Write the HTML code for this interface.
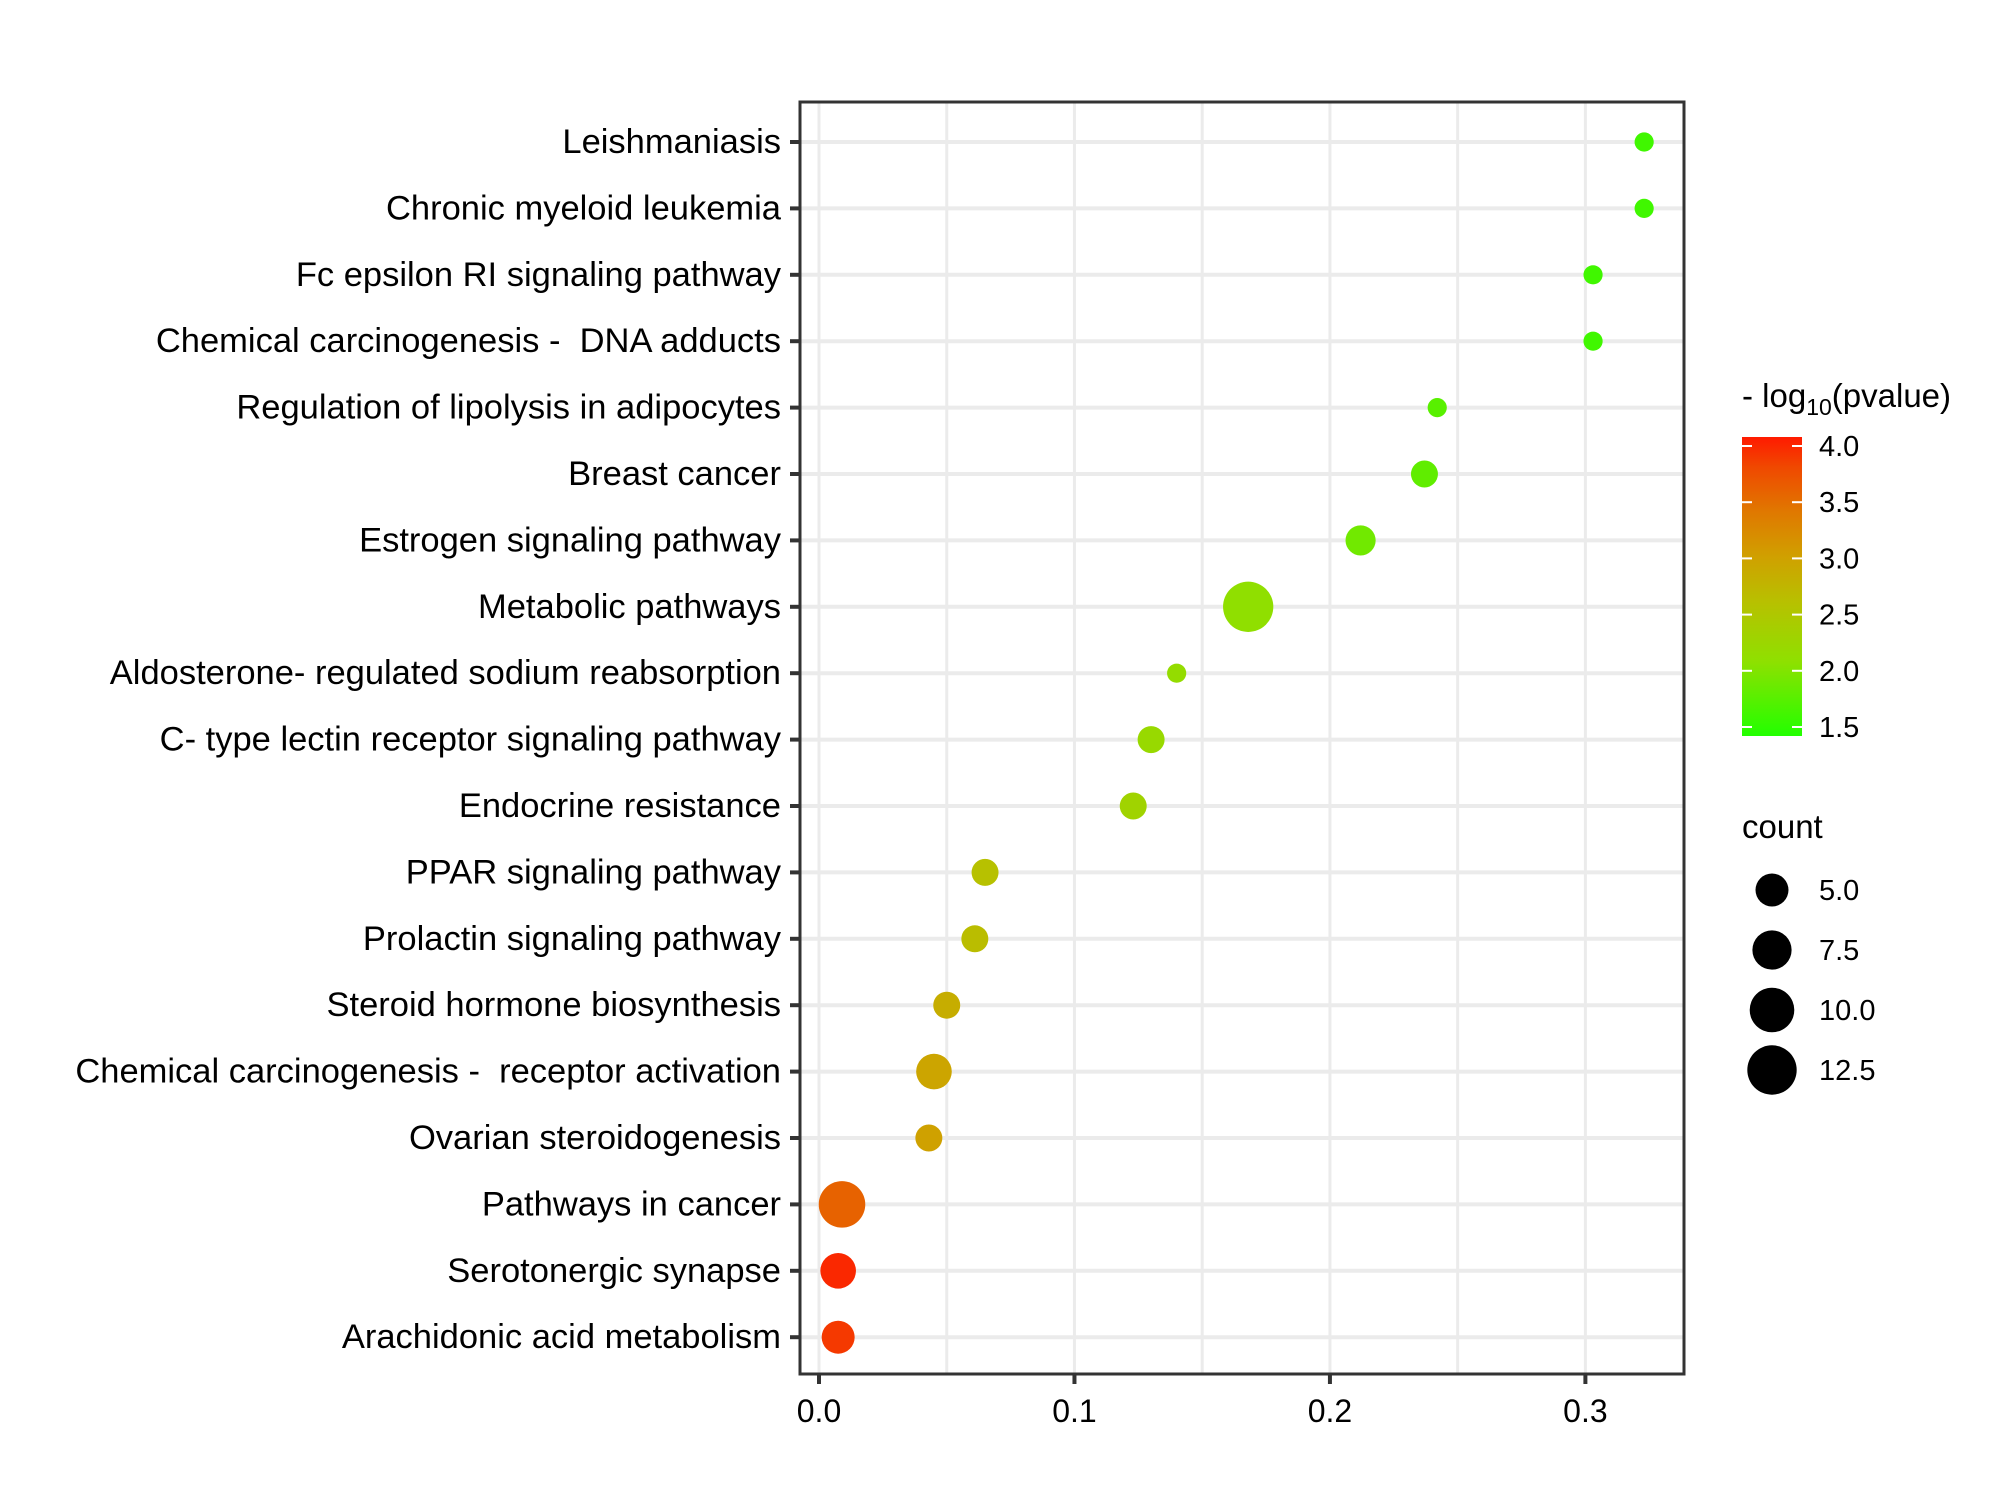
<!DOCTYPE html>
<html><head><meta charset="utf-8"><style>
html,body{margin:0;padding:0;background:#fff;}
svg{display:block;font-family:"Liberation Sans",Arial,sans-serif;}
text{white-space:pre;}
</style></head><body>
<svg id="chart" width="2000" height="1500" viewBox="0 0 2000 1500" xmlns="http://www.w3.org/2000/svg" xml:space="preserve">
<defs>
<linearGradient id="cbar" x1="0" y1="1" x2="0" y2="0">
<stop offset="0" stop-color="#22ff00"/>
<stop offset="0.25" stop-color="#8fe000"/>
<stop offset="0.45" stop-color="#b8c000"/>
<stop offset="0.6" stop-color="#d0a000"/>
<stop offset="0.75" stop-color="#e07800"/>
<stop offset="0.9" stop-color="#f04800"/>
<stop offset="1" stop-color="#ff1a00"/>
</linearGradient>
</defs>
<g id="grid"></g>
<g id="points"></g>
<g id="axes"></g>
<g id="legend"></g>
</svg>
<script>
const categories = ["Leishmaniasis","Chronic myeloid leukemia","Fc epsilon RI signaling pathway","Chemical carcinogenesis -  DNA adducts","Regulation of lipolysis in adipocytes","Breast cancer","Estrogen signaling pathway","Metabolic pathways","Aldosterone- regulated sodium reabsorption","C- type lectin receptor signaling pathway","Endocrine resistance","PPAR signaling pathway","Prolactin signaling pathway","Steroid hormone biosynthesis","Chemical carcinogenesis -  receptor activation","Ovarian steroidogenesis","Pathways in cancer","Serotonergic synapse","Arachidonic acid metabolism"];
const ratioValues = [0.323,0.323,0.303,0.303,0.242,0.237,0.212,0.168,0.140,0.130,0.123,0.065,0.061,0.050,0.045,0.043,0.009,0.0075,0.0075];
const countValues = [1,1,1,1,1,3,4,13,1,3,3,3,3,3,6,3,11,6,5];
const logpValues = [1.6,1.6,1.6,1.6,1.75,1.8,1.9,2.1,2.15,2.2,2.3,2.6,2.65,2.85,2.95,3.0,3.6,4.0,3.9];
const xTicks = [0.0,0.1,0.2,0.3];
const xTickLabels = ["0.0","0.1","0.2","0.3"];
const colorTicks = [4.0,3.5,3.0,2.5,2.0,1.5];
const sizeLegend = [5.0,7.5,10.0,12.5];
const sizeLegendLabels = ["5.0","7.5","10.0","12.5"];

const NS="http://www.w3.org/2000/svg";
const P={l:800,r:1684,t:102,b:1374};
const xMin=-0.00744, xMax=0.3386;
const xS=v=>P.l+(v-xMin)/(xMax-xMin)*(P.r-P.l);
const yTop=142, yStep=66.4;
const yS=i=>yTop+i*yStep;
const rS=c=>Math.sqrt(47+45*c);
const cMin=1.42,cMax=4.08,cbTop=437,cbBot=736;
const cY=v=>cbBot-(v-cMin)/(cMax-cMin)*(cbBot-cbTop);
const stops=[[0,[0x22,0xff,0x00]],[0.25,[0x8f,0xe0,0x00]],[0.45,[0xb8,0xc0,0x00]],[0.6,[0xd0,0xa0,0x00]],[0.75,[0xe0,0x78,0x00]],[0.9,[0xf0,0x48,0x00]],[1,[0xff,0x1a,0x00]]];
function colS(v){let t=(v-cMin)/(cMax-cMin);t=Math.max(0,Math.min(1,t));
 for(let i=1;i<stops.length;i++){if(t<=stops[i][0]){const a=stops[i-1],b=stops[i];const f=(t-a[0])/(b[0]-a[0]);
 return 'rgb('+a[1].map((c,k)=>Math.round(c+(b[1][k]-c)*f)).join(',')+')';}}return 'rgb(255,26,0)';}
function mk(tag,attrs,parent,text){const e=document.createElementNS(NS,tag);for(const k in attrs)e.setAttribute(k,attrs[k]);if(text!==undefined)e.textContent=text;parent.appendChild(e);return e;}
const grid=document.getElementById('grid'),pts=document.getElementById('points'),ax=document.getElementById('axes'),lg=document.getElementById('legend');

mk('rect',{x:P.l,y:P.t,width:P.r-P.l,height:P.b-P.t,fill:'#fff'},grid);
for(let v=0;v<=0.35;v+=0.05){const x=xS(v);if(x>P.r)break;
 const g=mk('line',{x1:x,x2:x,y1:P.t,y2:P.b,stroke:'#ebebeb','stroke-width':3},grid);
 
 }
categories.forEach((c,i)=>{const g=mk('line',{x1:P.l,x2:P.r,y1:yS(i),y2:yS(i),stroke:'#ebebeb','stroke-width':4},grid);
 
 });

categories.forEach((c,i)=>{
 const p=mk('circle',{cx:xS(ratioValues[i]),cy:yS(i),r:rS(countValues[i]),fill:colS(logpValues[i])},pts);
 
 
 const t=mk('text',{x:781,y:yS(i)+11,'text-anchor':'end','font-size':34.5,fill:'#000'},ax,c);
 
 
 const tk=mk('line',{x1:790,x2:800,y1:yS(i),y2:yS(i),stroke:'#333','stroke-width':4},ax);
 
 
});
const border=mk('rect',{x:P.l,y:P.t,width:P.r-P.l,height:P.b-P.t,fill:'none',stroke:'#333','stroke-width':3},ax);


xTicks.forEach((v,i)=>{
 const tk=mk('line',{x1:xS(v),x2:xS(v),y1:P.b,y2:P.b+10,stroke:'#333','stroke-width':4},ax);
 
 
 const t=mk('text',{x:xS(v),y:1422,'text-anchor':'middle','font-size':32,fill:'#000'},ax,xTickLabels[i]);
 
 
});

// color legend
const lt=mk('text',{x:1742,y:407,'font-size':33,fill:'#000'},lg);


lt.innerHTML='- log<tspan font-size="23" dy="8">10</tspan><tspan dy="-8">(pvalue)</tspan>';
const cb=mk('rect',{x:1742,y:cbTop,width:60,height:cbBot-cbTop,fill:'url(#cbar)'},lg);


colorTicks.forEach(v=>{
 const y=cY(v);
 mk('line',{x1:1742,x2:1752,y1:y,y2:y,stroke:'#fff','stroke-width':2},lg);
 mk('line',{x1:1792,x2:1802,y1:y,y2:y,stroke:'#fff','stroke-width':2},lg);
 const t=mk('text',{x:1819,y:y+10,'font-size':29,fill:'#000'},lg,v.toFixed(1));
 
 
});
// size legend
const st=mk('text',{x:1742,y:838,'font-size':33,fill:'#000'},lg,'count');


sizeLegend.forEach((c,i)=>{
 const y=890+i*60;
 const k=mk('circle',{cx:1772,cy:y,r:rS(c),fill:'#000'},lg);
 
 
 const t=mk('text',{x:1819,y:y+10,'font-size':29,fill:'#000'},lg,sizeLegendLabels[i]);
 
 
});
</script>
</body></html>
